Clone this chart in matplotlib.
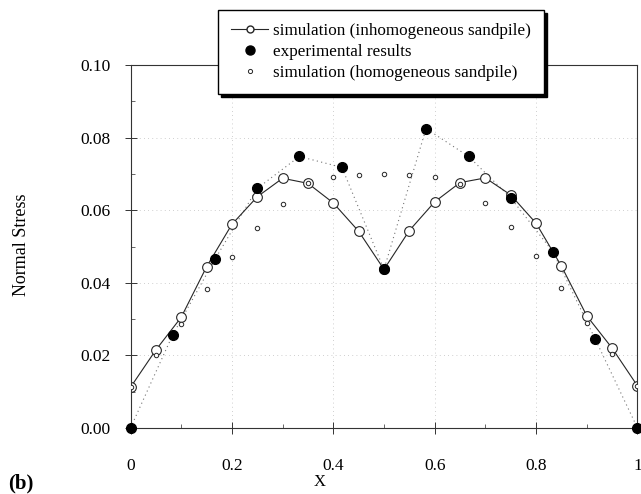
"""
Normal stress under a sandpile: simulations vs. experiment (panel b).
"""

import matplotlib
matplotlib.use("Agg")
import matplotlib.pyplot as plt
from matplotlib.lines import Line2D
from matplotlib.ticker import MultipleLocator

plt.rcParams["font.family"] = ["Liberation Serif", "DejaVu Serif"]

# Inhomogeneous sandpile simulation (open circles, solid line)
x_inhom = [0.0, 0.05, 0.1, 0.15, 0.2, 0.25, 0.3, 0.35, 0.4, 0.45, 0.5,
           0.55, 0.6, 0.65, 0.7, 0.75, 0.8, 0.85, 0.9, 0.95, 1.0]
y_inhom = [0.0112, 0.0215, 0.0305, 0.0444, 0.0561, 0.0637, 0.0688, 0.0674, 0.0620, 0.0542, 0.0437,
           0.0544, 0.0623, 0.0676, 0.0689, 0.0642, 0.0564, 0.0446, 0.0309, 0.0220, 0.0116]

# Experimental results (filled dots, dotted line)
x_exp = [0.0, 0.083, 0.167, 0.25, 0.333, 0.417, 0.5, 0.583, 0.667, 0.75, 0.833, 0.917, 1.0]
y_exp = [0.0, 0.0256, 0.0466, 0.0660, 0.0748, 0.0718, 0.0437, 0.0825, 0.0748, 0.0634, 0.0486, 0.0244, 0.0]

# Homogeneous sandpile simulation (small open circles)
x_hom = [0.0, 0.05, 0.1, 0.15, 0.2, 0.25, 0.3, 0.35, 0.4, 0.45, 0.5,
         0.55, 0.6, 0.65, 0.7, 0.75, 0.8, 0.85, 0.9, 0.95, 1.0]
y_hom = [0.0112, 0.0201, 0.0287, 0.0382, 0.0472, 0.0552, 0.0617, 0.0674, 0.0691, 0.0697, 0.0700,
         0.0697, 0.0692, 0.0672, 0.0619, 0.0553, 0.0474, 0.0385, 0.0290, 0.0204, 0.0116]

x_ticks = [0, 0.2, 0.4, 0.6, 0.8, 1.0]
x_tick_labels = ["0", "0.2", "0.4", "0.6", "0.8", "1"]
y_ticks = [0.0, 0.02, 0.04, 0.06, 0.08, 0.10]
y_tick_labels = ["0.00", "0.02", "0.04", "0.06", "0.08", "0.10"]

fig = plt.figure(figsize=(6.41, 4.94), dpi=100)
ax = fig.add_axes([0.2036, 0.1336, 0.7909, 0.7348])

ax.plot(x_exp, y_exp, color="0.45", linestyle=(0, (1, 3)), linewidth=0.8, zorder=1)
ax.plot(x_inhom, y_inhom, color="0.15", linewidth=0.8, marker="o", markersize=7,
        markerfacecolor="white", markeredgecolor="0.15", markeredgewidth=0.8, zorder=2)
ax.plot(x_hom, y_hom, linestyle="none", marker="o", markersize=3.2,
        markerfacecolor="white", markeredgecolor="0.15", markeredgewidth=0.7, zorder=3)
ax.plot(x_exp, y_exp, linestyle="none", marker="o", markersize=7,
        markerfacecolor="black", markeredgecolor="black", zorder=4, clip_on=False)

ax.set_xlim(0, 1)
ax.set_ylim(0, 0.10)
ax.set_xticks(x_ticks)
ax.set_xticklabels(x_tick_labels)
ax.set_yticks(y_ticks)
ax.set_yticklabels(y_tick_labels)
ax.yaxis.set_minor_locator(MultipleLocator(0.01))
ax.xaxis.set_minor_locator(MultipleLocator(0.1))
ax.tick_params(which="major", direction="inout", length=9, width=0.7, labelsize=12.5,
               color="0.2")
ax.tick_params(which="minor", direction="in", length=3, width=0.6, color="0.3")
ax.tick_params(axis="x", pad=17)
ax.tick_params(axis="y", pad=10)
ax.grid(True, which="major", color="0.75", linestyle=(0, (1, 4)), linewidth=0.6)
for side in ["left", "right", "top", "bottom"]:
    ax.spines[side].set_linewidth(0.8)
    ax.spines[side].set_color("0.2")

handles = [
    Line2D([], [], color="0.15", linewidth=0.8, marker="o", markersize=5,
           markerfacecolor="white", markeredgecolor="0.15"),
    Line2D([], [], linestyle="none", marker="o", markersize=6.5,
           markerfacecolor="black", markeredgecolor="black"),
    Line2D([], [], linestyle="none", marker="o", markersize=3,
           markerfacecolor="white", markeredgecolor="0.15", markeredgewidth=0.7),
]
labels = ["simulation (inhomogeneous sandpile)", "experimental results",
          "simulation (homogeneous sandpile)"]
leg = fig.legend(handles, labels, loc="upper left", bbox_to_anchor=(0.340, 0.980),
                 fontsize=12.3, frameon=True, fancybox=False, borderpad=0.75,
                 borderaxespad=0, handlelength=2.2, handletextpad=0.3, labelspacing=0.3,
                 shadow={"color": "black", "alpha": 1.0})
leg.get_frame().set_edgecolor("black")
leg.get_frame().set_linewidth(1.0)
leg.set_zorder(10)

fig.text(0.499, 0.024, "X", ha="center", va="center", fontsize=12)
fig.text(0.033, 0.504, "Normal Stress", rotation=90, ha="center", va="center", fontsize=13)
fig.text(0.012, 0.002, "(b)", ha="left", va="bottom", fontsize=15, fontweight="bold")

fig.savefig("out.png", dpi=100)
